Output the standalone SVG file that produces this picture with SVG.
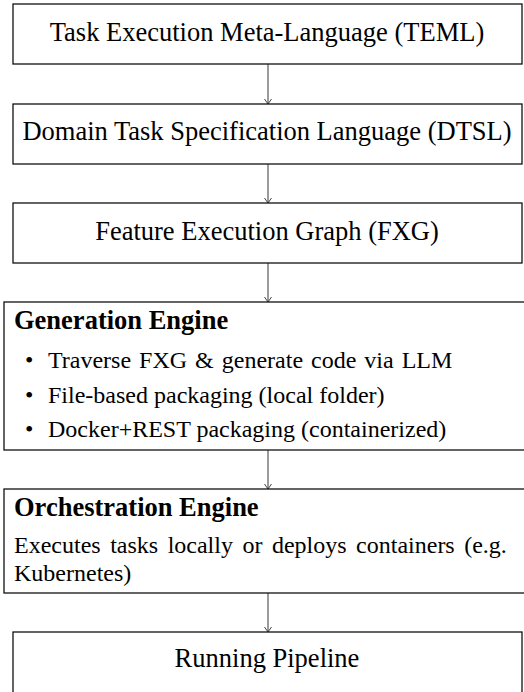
<svg xmlns="http://www.w3.org/2000/svg" width="524" height="692" viewBox="0 0 524 692">
<style>
.box{fill:#fff;stroke:#111;stroke-width:1.3}
.t{font-family:"Liberation Serif","Times New Roman",serif;font-size:26.5px;fill:#000}
.s{font-size:24px}
.c{text-anchor:middle}
.b{font-weight:bold}
.conn{stroke:#666;stroke-width:1.3;fill:none}
.ah{stroke:#444;stroke-width:1;fill:none}
</style>
<rect width="524" height="692" fill="#fff"/>
<g id="connectors">
<line class="conn" x1="268" y1="64" x2="268" y2="104"/><path class="ah" d="M264.5,99 L268,104 L271.5,99"/>
<line class="conn" x1="268" y1="164" x2="268" y2="203"/><path class="ah" d="M264.5,198 L268,203 L271.5,198"/>
<line class="conn" x1="268" y1="263" x2="268" y2="302"/><path class="ah" d="M264.5,297 L268,302 L271.5,297"/>
<line class="conn" x1="268" y1="450" x2="268" y2="489"/><path class="ah" d="M264.5,484 L268,489 L271.5,484"/>
<line class="conn" x1="268" y1="593" x2="268" y2="632"/><path class="ah" d="M264.5,627 L268,632 L271.5,627"/>
</g>
<g id="teml">
<rect class="box" x="13" y="4" width="509" height="60"/>
<text class="t c" x="267" y="41">Task Execution Meta-Language (TEML)</text>
</g>
<g id="dtsl">
<rect class="box" x="13" y="104" width="509" height="60"/>
<text class="t c" x="267" y="140">Domain Task Specification Language (DTSL)</text>
</g>
<g id="fxg">
<rect class="box" x="13" y="203" width="509" height="60"/>
<text class="t c" x="267" y="240">Feature Execution Graph (FXG)</text>
</g>
<g id="generation">
<rect class="box" x="4" y="302" width="530" height="148"/>
<text class="t b" x="14" y="329">Generation Engine</text>
<text class="t s" x="25" y="368">•</text>
<text class="t s" x="48" y="368" word-spacing="2">Traverse FXG &amp; generate code via LLM</text>
<text class="t s" x="25" y="403">•</text>
<text class="t s" x="48" y="403">File-based packaging (local folder)</text>
<text class="t s" x="25" y="437">•</text>
<text class="t s" x="48" y="437">Docker+REST packaging (containerized)</text>
</g>
<g id="orchestration">
<rect class="box" x="4" y="489" width="530" height="104"/>
<text class="t b" x="14" y="516">Orchestration Engine</text>
<text class="t s" x="14" y="553" word-spacing="3.5">Executes tasks locally or deploys containers (e.g.</text>
<text class="t s" x="14" y="581">Kubernetes)</text>
</g>
<g id="running">
<rect class="box" x="13" y="632" width="509" height="70"/>
<text class="t c" x="267" y="667">Running Pipeline</text>
</g>
</svg>
